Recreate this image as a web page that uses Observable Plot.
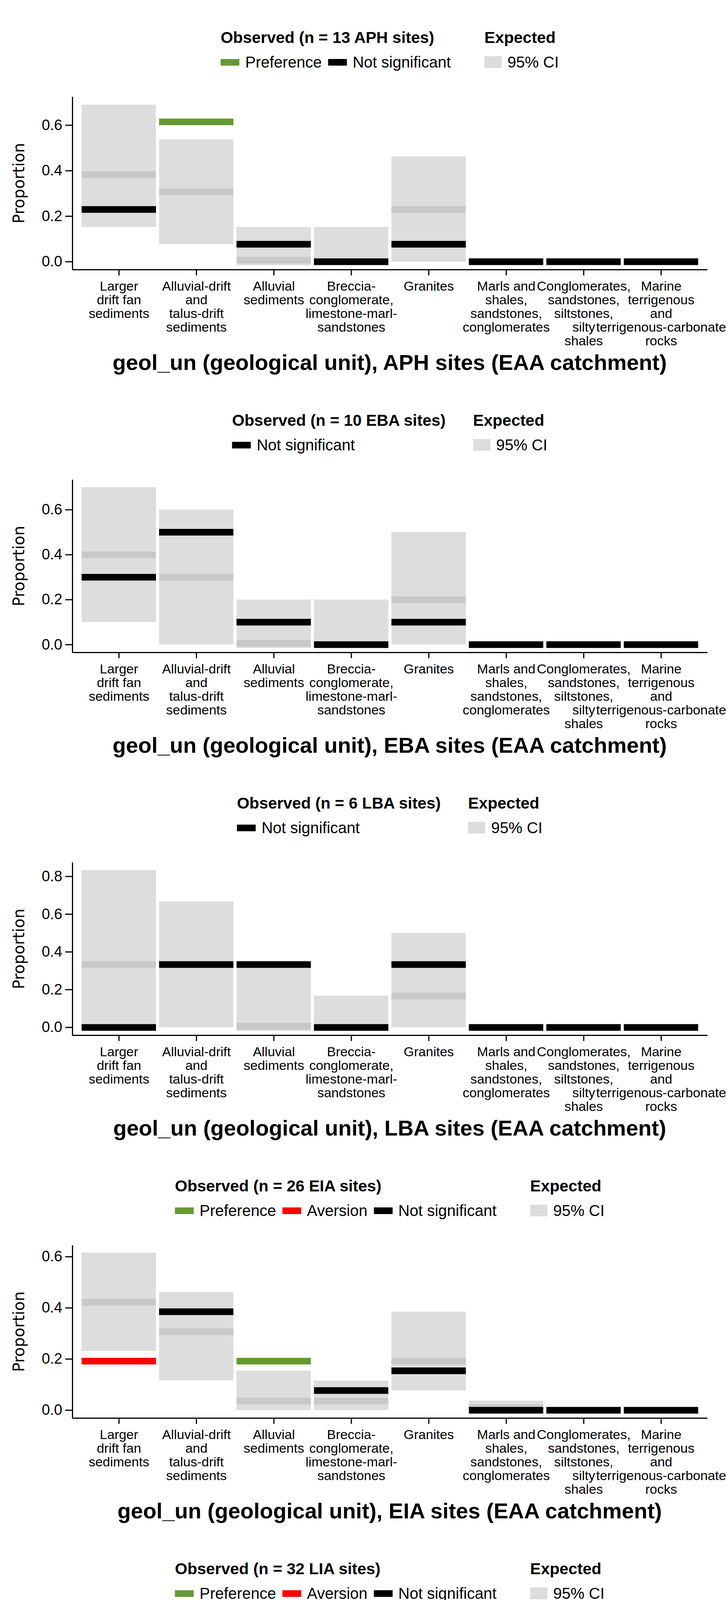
<!DOCTYPE html>
<html><head><meta charset="utf-8">
<script src="https://cdn.jsdelivr.net/npm/d3@7"></script>
<script src="https://cdn.jsdelivr.net/npm/@observablehq/plot@0.6"></script>
<style>
body{margin:0;background:#fff;font-family:"Liberation Sans",Arial,sans-serif;}
.panel{position:relative;width:1860px;height:980px;overflow:hidden;}
.legend{position:absolute;top:70px;left:997px;transform:translateX(-50%);display:flex;gap:70px;align-items:flex-start;}
.lt{font-weight:bold;font-size:41px;height:52px;line-height:52px;white-space:nowrap;}
.row{display:flex;align-items:center;margin-top:12px;font-size:40px;white-space:nowrap;height:50px;}
.key{display:inline-block;width:48px;height:17px;margin-right:15px;}
.item{display:flex;align-items:center;margin-right:16px;}
.title{position:absolute;top:895px;left:997px;transform:translateX(-50%);font-weight:bold;font-size:56px;white-space:nowrap;}
.ylab{position:absolute;left:48px;top:469px;transform:translate(-50%,-50%) rotate(-90deg);font-family:"DejaVu Sans",sans-serif;font-size:40px;white-space:nowrap;}
svg{position:absolute;left:0;top:0;}
</style></head><body><div id="root"></div>
<script>
const categories = ["Larger\ndrift fan\nsediments","Alluvial-drift\nand\ntalus-drift\nsediments","Alluvial\nsediments","Breccia-\nconglomerate,\nlimestone-marl-\nsandstones","Granites","Marls and\nshales,\nsandstones,\nconglomerates","Conglomerates,\nsandstones,\nsiltstones,\nsilty\nshales","Marine\nterrigenous\nand\nterrigenous-carbonate\nrocks"];
const yTicks = [0, 0.2, 0.4, 0.6, 0.8];

// APH
const aphN = 13;
const aphObs = [0.23,0.615,0.077,0,0.077,0,0,0];
const aphSig = ["N","P","N","N","N","N","N","N"];
const aphMean = [0.383,0.307,0.007,0,0.23,0,0,0];
const aphLow = [0.152,0.077,-0.016,0,0,0,0,0];
const aphHigh = [0.69,0.537,0.152,0.152,0.462,0,0,0];
// EBA
const ebaN = 10;
const ebaObs = [0.3,0.5,0.1,0,0.1,0,0,0];
const ebaSig = ["N","N","N","N","N","N","N","N"];
const ebaMean = [0.4,0.3,0.006,0,0.2,0,0,0];
const ebaLow = [0.1,0,-0.016,0,0,0,0,0];
const ebaHigh = [0.7,0.6,0.2,0.2,0.5,0,0,0];
// LBA
const lbaN = 6;
const lbaObs = [0,0.333,0.333,0,0.333,0,0,0];
const lbaSig = ["N","N","N","N","N","N","N","N"];
const lbaMean = [0.333,0.333,0.006,0,0.167,0,0,0];
const lbaLow = [0,0,-0.02,0,0,0,0,0];
const lbaHigh = [0.833,0.667,0.333,0.167,0.5,0,0,0];
// EIA
const eiaN = 26;
const eiaObs = [0.192,0.385,0.192,0.077,0.154,0,0,0];
const eiaSig = ["A","N","P","N","N","N","N","N"];
const eiaMean = [0.422,0.307,0.036,0.036,0.192,0.01,0,0];
const eiaLow = [0.231,0.116,0,0,0.077,0,0,0];
const eiaHigh = [0.615,0.461,0.154,0.115,0.385,0.037,0,0];
// LIA
const liaN = 32;
const liaObs = [0.219,0.531,0.125,0.0625,0.0625,0,0,0];
const liaSig = ["A","P","N","N","A","N","N","N"];
const liaMean = [0.404,0.279,0.03,0.03,0.217,0.008,0,0];
const liaLow = [0.248,0.156,0,0,0.093,0,0,0];
const liaHigh = [0.591,0.467,0.124,0.093,0.342,0.03,0,0];
// RM
const rmN = 18;
const rmObs = [0.278,0.556,0.167,0,0,0,0,0];
const rmSig = ["N","P","N","N","A","N","N","N"];
const rmMean = [0.444,0.277,0.055,0,0.221,0,0,0];
const rmLow = [0.222,0.111,0,0,0.055,0,0,0];
const rmHigh = [0.667,0.5,0.167,0.111,0.388,0.055,0,0];

const panels = [
  {name:"APH", n:aphN, obs:aphObs, sig:aphSig, mean:aphMean, low:aphLow, high:aphHigh, dom:[-0.035,0.724], keys:["P","N"]},
  {name:"EBA", n:ebaN, obs:ebaObs, sig:ebaSig, mean:ebaMean, low:ebaLow, high:ebaHigh, dom:[-0.035,0.733], keys:["N"]},
  {name:"LBA", n:lbaN, obs:lbaObs, sig:lbaSig, mean:lbaMean, low:lbaLow, high:lbaHigh, dom:[-0.042,0.873], keys:["N"]},
  {name:"EIA", n:eiaN, obs:eiaObs, sig:eiaSig, mean:eiaMean, low:eiaLow, high:eiaHigh, dom:[-0.031,0.644], keys:["P","A","N"]},
  {name:"LIA", n:liaN, obs:liaObs, sig:liaSig, mean:liaMean, low:liaLow, high:liaHigh, dom:[-0.030,0.62], keys:["P","A","N"]},
  {name:"RM", n:rmN, obs:rmObs, sig:rmSig, mean:rmMean, low:rmLow, high:rmHigh, dom:[-0.033,0.70], keys:["P","A","N"]}
];
const sigColor = {P:"#66992f", A:"#ff0000", N:"#000000"};
const sigLabel = {P:"Preference", A:"Aversion", N:"Not significant"};

const root = document.getElementById("root");
for (const p of panels) {
  const rows = categories.map((c,k)=>({i:k+1, obs:p.obs[k], sig:p.sig[k], mean:p.mean[k], low:p.low[k], high:p.high[k]}));
  const div = document.createElement("div"); div.className="panel";
  const plot = Plot.plot({
    width:1860, height:980, marginLeft:185, marginRight:50, marginTop:248, marginBottom:290,
    style:{fontFamily:"Liberation Sans, Arial, sans-serif", background:"white"},
    x:{domain:[0.4,8.6]},
    y:{domain:p.dom},
    marks:[
      Plot.rect(rows.filter(d=>d.high>d.low), {x1:d=>d.i-0.48, x2:d=>d.i+0.48, y1:"low", y2:"high", fill:"#dddddd"}),
      Plot.ruleY(rows, {y:"mean", x1:d=>d.i-0.48, x2:d=>d.i+0.48, stroke:"#c8c8c8", strokeWidth:17}),
      Plot.ruleY(rows, {y:"obs", x1:d=>d.i-0.48, x2:d=>d.i+0.48, stroke:d=>sigColor[d.sig], strokeWidth:17}),
      Plot.axisX({ticks:[1,2,3,4,5,6,7,8], tickFormat:i=>categories[i-1], tickSize:15, tickPadding:14, fontSize:34, lineHeight:1.03, label:null, strokeWidth:3, color:"black"}),
      Plot.axisY({ticks:yTicks.filter(t=>t<=p.dom[1]), tickFormat:d3.format(".1f"), tickSize:18, tickPadding:8, fontSize:38, label:null, strokeWidth:3, color:"black"}),
      Plot.ruleY([p.dom[0]], {stroke:"black", strokeWidth:3}),
      Plot.ruleX([0.4], {stroke:"black", strokeWidth:3})
    ]
  });
  div.appendChild(plot);
  const leg = document.createElement("div"); leg.className="legend";
  const keyHtml = p.keys.map(k=>`<span class="item"><span class="key" style="background:${sigColor[k]}"></span>${sigLabel[k]}</span>`).join("");
  leg.innerHTML = `<div><div class="lt">Observed (n = ${p.n} ${p.name} sites)</div><div class="row">${keyHtml}</div></div>
  <div><div class="lt">Expected</div><div class="row"><span class="key" style="background:#dddddd;width:44px;height:30px"></span>95% CI</div></div>`;
  div.appendChild(leg);
  const t = document.createElement("div"); t.className="title"; t.textContent=`geol_un (geological unit), ${p.name} sites (EAA catchment)`;
  div.appendChild(t);
  const yl = document.createElement("div"); yl.className="ylab"; yl.textContent="Proportion";
  div.appendChild(yl);
  root.appendChild(div);
}
</script></body></html>
